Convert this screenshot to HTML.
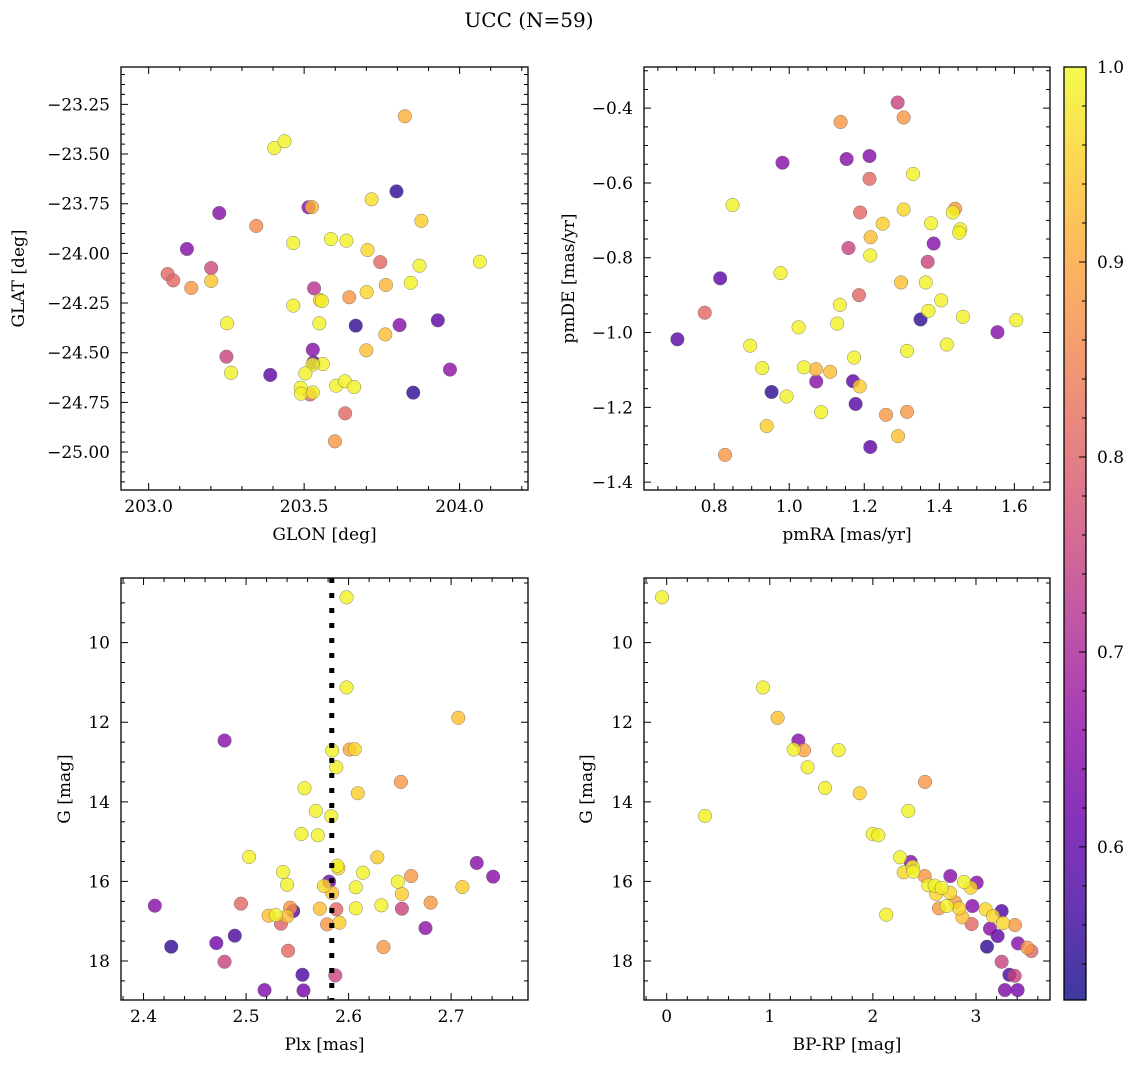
<!DOCTYPE html>
<html><head><meta charset="utf-8"><style>
html,body{margin:0;padding:0;background:#fff;}
svg{display:block;font-family:"DejaVu Serif","Liberation Serif",serif;}
</style></head><body>
<svg id="fig" width="1136" height="1067" viewBox="0 0 1136 1067" xmlns="http://www.w3.org/2000/svg">
<defs>
<linearGradient id="plasma" x1="0" y1="1" x2="0" y2="0"></linearGradient>
</defs>
<text x="529" y="27" font-size="20" text-anchor="middle">UCC (N=59)</text>
</svg>
<script>
// ---- Top-left: GLON / GLAT ----
const tlGlon=[203.824,203.404,203.437,203.797,203.717,203.514,203.525,203.227,203.346,203.877,203.465,203.586,203.636,203.704,203.123,203.745,204.065,203.871,203.201,203.061,203.079,203.137,203.201,203.843,203.763,203.532,203.701,203.551,203.557,203.645,203.465,203.252,203.549,203.666,203.807,203.930,203.761,203.700,203.528,203.250,203.530,203.560,203.527,203.265,203.391,203.504,203.969,203.603,203.631,203.661,203.489,203.490,203.519,203.528,203.851,203.632,203.599];
const tlGlat=[-23.310,-23.470,-23.436,-23.688,-23.728,-23.768,-23.767,-23.797,-23.862,-23.836,-23.948,-23.928,-23.936,-23.983,-23.978,-24.044,-24.042,-24.062,-24.074,-24.104,-24.136,-24.174,-24.139,-24.148,-24.159,-24.176,-24.195,-24.235,-24.240,-24.221,-24.263,-24.352,-24.352,-24.364,-24.361,-24.337,-24.408,-24.488,-24.485,-24.520,-24.549,-24.557,-24.560,-24.601,-24.612,-24.604,-24.585,-24.666,-24.644,-24.673,-24.676,-24.706,-24.710,-24.700,-24.701,-24.805,-24.946];
const tlProb=[0.91,0.99,0.99,0.55,0.97,0.65,0.92,0.65,0.86,0.95,0.99,0.99,0.99,0.96,0.65,0.81,0.99,0.99,0.76,0.81,0.81,0.88,0.94,0.99,0.92,0.72,0.96,0.94,0.99,0.88,0.99,0.99,0.99,0.55,0.65,0.60,0.93,0.93,0.65,0.75,0.60,0.99,0.99,0.99,0.60,0.99,0.66,0.99,0.99,0.99,0.99,0.99,0.81,0.99,0.55,0.81,0.88];
// ---- Top-right: pmRA / pmDE ----
const trPmra=[1.289,1.137,1.305,0.982,1.153,1.214,1.214,1.330,0.849,1.189,1.305,1.442,1.436,1.249,1.378,1.456,1.453,1.217,1.385,1.158,1.216,1.369,0.816,0.977,1.298,1.364,1.186,1.405,1.135,1.350,1.371,1.463,1.605,0.775,1.128,1.025,1.555,0.702,0.896,1.420,1.314,1.173,0.928,1.039,1.071,1.109,1.072,1.170,1.188,0.953,0.993,1.177,1.085,1.258,1.314,0.940,1.290,1.216,0.829];
const trPmde=[-0.385,-0.437,-0.425,-0.546,-0.536,-0.528,-0.589,-0.576,-0.659,-0.679,-0.671,-0.669,-0.679,-0.709,-0.708,-0.724,-0.733,-0.745,-0.762,-0.774,-0.794,-0.811,-0.855,-0.841,-0.866,-0.866,-0.900,-0.914,-0.926,-0.965,-0.942,-0.958,-0.967,-0.947,-0.976,-0.986,-0.999,-1.018,-1.035,-1.032,-1.049,-1.067,-1.095,-1.093,-1.098,-1.105,-1.131,-1.130,-1.144,-1.159,-1.171,-1.191,-1.213,-1.220,-1.212,-1.250,-1.277,-1.306,-1.327];
const trProb=[0.75,0.88,0.88,0.65,0.65,0.65,0.81,0.99,0.99,0.81,0.96,0.88,0.99,0.95,0.99,0.99,0.99,0.93,0.65,0.75,0.99,0.75,0.60,0.99,0.93,0.99,0.81,0.99,0.99,0.55,0.99,0.99,0.99,0.81,0.99,0.99,0.65,0.59,0.99,0.99,0.99,0.99,0.99,0.99,0.92,0.93,0.65,0.60,0.95,0.55,0.99,0.59,0.99,0.88,0.88,0.95,0.93,0.60,0.88];
// ---- Bottom-left: Plx / G ----
const blPlx=[2.598,2.598,2.707,2.479,2.584,2.601,2.606,2.588,2.651,2.557,2.609,2.568,2.583,2.554,2.570,2.503,2.628,2.725,2.589,2.590,2.536,2.614,2.661,2.741,2.581,2.648,2.540,2.576,2.711,2.607,2.584,2.652,2.411,2.495,2.680,2.572,2.588,2.607,2.632,2.652,2.543,2.546,2.522,2.529,2.540,2.534,2.579,2.591,2.675,2.489,2.471,2.427,2.634,2.541,2.479,2.555,2.587,2.518,2.556];
const blG=[8.861,11.126,11.889,12.459,12.710,12.685,12.677,13.130,13.499,13.658,13.784,14.228,14.362,14.807,14.840,15.385,15.394,15.536,15.604,15.671,15.763,15.780,15.864,15.880,16.006,16.006,16.082,16.115,16.140,16.148,16.291,16.316,16.610,16.560,16.535,16.685,16.702,16.677,16.601,16.685,16.660,16.744,16.861,16.845,16.878,17.063,17.079,17.037,17.172,17.364,17.549,17.641,17.650,17.742,18.019,18.346,18.362,18.731,18.740];
const blProb=[0.99,0.99,0.93,0.65,0.99,0.90,0.96,0.99,0.88,0.99,0.95,0.99,0.99,0.99,0.99,0.99,0.95,0.65,0.99,0.96,0.99,0.99,0.88,0.65,0.62,0.99,0.99,0.96,0.95,0.99,0.93,0.95,0.65,0.81,0.88,0.93,0.81,0.99,0.99,0.75,0.88,0.60,0.93,0.99,0.93,0.80,0.88,0.95,0.66,0.58,0.62,0.55,0.88,0.81,0.75,0.58,0.75,0.64,0.63];
// ---- Bottom-right: BP-RP / G ----
const brBprp=[-0.045,0.934,1.076,1.277,1.232,1.332,1.668,1.367,2.506,1.536,1.872,2.344,0.372,1.998,2.053,2.263,2.367,2.386,2.299,2.392,2.502,2.751,3.007,2.884,2.538,2.599,2.667,2.748,2.948,2.615,2.797,2.965,2.716,2.641,2.835,3.094,3.249,2.868,3.165,2.130,3.262,3.378,2.958,3.136,3.210,3.107,3.408,3.498,3.537,3.249,3.324,3.375,3.281,3.404];
const brG=[8.861,11.126,11.889,12.459,12.685,12.702,12.702,13.130,13.499,13.650,13.784,14.228,14.354,14.807,14.840,15.394,15.511,15.637,15.771,15.755,15.864,15.864,16.031,16.014,16.098,16.106,16.165,16.283,16.157,16.316,16.526,16.618,16.618,16.677,16.677,16.702,16.744,16.903,16.870,16.836,17.046,17.096,17.071,17.189,17.373,17.641,17.557,17.666,17.750,18.019,18.346,18.371,18.731,18.731];
const brProb=[0.99,0.99,0.93,0.65,0.99,0.90,0.99,0.99,0.88,0.99,0.95,0.99,0.99,0.99,0.99,0.99,0.65,0.99,0.96,0.99,0.88,0.65,0.65,0.99,0.99,0.99,0.99,0.96,0.96,0.96,0.88,0.65,0.99,0.88,0.96,0.96,0.58,0.93,0.96,0.99,0.96,0.88,0.81,0.65,0.60,0.55,0.65,0.88,0.81,0.75,0.58,0.75,0.64,0.63];
// ---- Tick labels ----
const tlXTicks=[203.0,203.5,204.0], tlXLabels=["203.0","203.5","204.0"];
const tlYTicks=[-23.25,-23.5,-23.75,-24,-24.25,-24.5,-24.75,-25], tlYLabels=["−23.25","−23.50","−23.75","−24.00","−24.25","−24.50","−24.75","−25.00"];
const trXTicks=[0.8,1.0,1.2,1.4,1.6], trXLabels=["0.8","1.0","1.2","1.4","1.6"];
const trYTicks=[-0.4,-0.6,-0.8,-1.0,-1.2,-1.4], trYLabels=["−0.4","−0.6","−0.8","−1.0","−1.2","−1.4"];
const blXTicks=[2.4,2.5,2.6,2.7], blXLabels=["2.4","2.5","2.6","2.7"];
const gTicks=[10,12,14,16,18], gLabels=["10","12","14","16","18"];
const brXTicks=[0,1,2,3], brXLabels=["0","1","2","3"];
const cbTicks=[0.6,0.7,0.8,0.9,1.0], cbLabels=["0.6","0.7","0.8","0.9","1.0"];
const plxRef=2.5836;

const NS="http://www.w3.org/2000/svg";
const svg=document.getElementById('fig');
function mk(tag,attrs,parent){const e=document.createElementNS(NS,tag);for(const k in attrs)e.setAttribute(k,attrs[k]);(parent||svg).appendChild(e);return e;}
const stops=[[0,"#0d0887"],[0.1,"#41049d"],[0.2,"#6a00a8"],[0.3,"#8f0da4"],[0.4,"#b12a90"],[0.5,"#cc4778"],[0.6,"#e16462"],[0.7,"#f2844b"],[0.8,"#fca636"],[0.9,"#fcce25"],[1,"#f0f921"]];
const PMIN=0.5215,PMAX=1.0;
function hex(h){return [1,3,5].map(i=>parseInt(h.substr(i,2),16));}
function cmap(p){let t=Math.max(0,Math.min(1,(p-PMIN)/(PMAX-PMIN)));for(let i=1;i<stops.length;i++){if(t<=stops[i][0]){const a=stops[i-1],b=stops[i];const f=(t-a[0])/(b[0]-a[0]);const ca=hex(a[1]),cb=hex(b[1]);return 'rgb('+ca.map((v,j)=>Math.round(v+(cb[j]-v)*f)).join(',')+')';}}return stops[10][1];}
const grad=svg.querySelector('#plasma');
stops.forEach(s=>mk('stop',{offset:s[0],'stop-color':s[1],'stop-opacity':0.8},grad));

function panel(name,L,T,R,B,xmin,xmax,ymin,ymax,invertY,xt,xl,yt,yl,xminor,yminor,xlabel,ylabel,ylabX){
  const g=mk('g',{});
  
  
  const sx=v=>L+(v-xmin)/(xmax-xmin)*(R-L);
  const sy=invertY?(v=>T+(v-ymin)/(ymax-ymin)*(B-T)):(v=>B-(v-ymin)/(ymax-ymin)*(B-T));
  return {g,sx,sy,L,T,R,B,xmin,xmax,ymin,ymax,xt,xl,yt,yl,xminor,yminor,xlabel,ylabel,ylabX,name};
}
function axes(P){
  const {g,sx,sy,L,T,R,B}=P;
  const frame=mk('rect',{x:L,y:T,width:R-L,height:B-T,fill:'none',stroke:'#000','stroke-width':1.3},g);
  
  
  let d='';
  const lo=Math.min(P.xmin,P.xmax),hi=Math.max(P.xmin,P.xmax);
  for(let v=Math.ceil(lo/P.xminor-1e-6)*P.xminor;v<=hi+1e-9;v+=P.xminor){const x=sx(v);d+=`M${x},${B}v-4M${x},${T}v4`;}
  P.xt.forEach(v=>{const x=sx(v);d+=`M${x},${B}v-7M${x},${T}v7`;});
  const ylo=Math.min(P.ymin,P.ymax),yhi=Math.max(P.ymin,P.ymax);
  for(let v=Math.ceil(ylo/P.yminor-1e-6)*P.yminor;v<=yhi+1e-9;v+=P.yminor){const y=sy(v);d+=`M${L},${y}h4M${R},${y}h-4`;}
  P.yt.forEach(v=>{const y=sy(v);d+=`M${L},${y}h7M${R},${y}h-7`;});
  const tk=mk('path',{d:d,stroke:'#000','stroke-width':1,fill:'none'},g);
  
  
  P.xt.forEach((v,i)=>{const t=mk('text',{x:sx(v),y:B+22,'font-size':17,'text-anchor':'middle'},g);t.textContent=P.xl[i];
    
    });
  P.yt.forEach((v,i)=>{const t=mk('text',{x:L-11,y:sy(v)+6,'font-size':17,'text-anchor':'end'},g);t.textContent=P.yl[i];
    
    });
  const xt=mk('text',{x:(L+R)/2,y:B+50,'font-size':17,'text-anchor':'middle'},g);xt.textContent=P.xlabel;
  
  
  const yt=mk('text',{x:P.ylabX,y:(T+B)/2,'font-size':17,'text-anchor':'middle',transform:`rotate(-90 ${P.ylabX} ${(T+B)/2})`},g);yt.textContent=P.ylabel;
  
  
}
function scatter(P,xs,ys,ps){
  const idx=xs.map((_,i)=>i).sort((a,b)=>ps[a]-ps[b]);
  idx.forEach(i=>{
    const c=mk('circle',{cx:P.sx(xs[i]),cy:P.sy(ys[i]),r:6.8,fill:cmap(ps[i]),'fill-opacity':0.8,stroke:'#666','stroke-width':0.5,'stroke-opacity':0.8},P.g);
    
    
  });
}
const tl=panel('glon-glat-panel',121,67,528,490,202.911,204.220,-25.191,-23.062,false,tlXTicks,tlXLabels,tlYTicks,tlYLabels,0.1,0.05,'GLON [deg]','GLAT [deg]',24);
const tr=panel('pm-panel',644,67,1050,490,0.613,1.695,-1.421,-0.290,false,trXTicks,trXLabels,trYTicks,trYLabels,0.05,0.05,'pmRA [mas/yr]','pmDE [mas/yr]',574);
const bl=panel('plx-g-panel',121,578,528,1000,2.378,2.775,8.375,18.98,true,blXTicks,blXLabels,gTicks,gLabels,0.02,0.5,'Plx [mas]','G [mag]',70);
const br=panel('cmd-panel',644,578,1050,1000,-0.220,3.718,8.375,18.98,true,brXTicks,brXLabels,gTicks,gLabels,0.2,0.5,'BP-RP [mag]','G [mag]',592);
scatter(tl,tlGlon,tlGlat,tlProb);
scatter(tr,trPmra,trPmde,trProb);
scatter(bl,blPlx,blG,blProb);
const vl=mk('line',{x1:bl.sx(plxRef),x2:bl.sx(plxRef),y1:578,y2:1000,stroke:'#000','stroke-width':5,'stroke-dasharray':'5 10'},bl.g);


scatter(br,brBprp,brG,brProb);
[tl,tr,bl,br].forEach(axes);
// colorbar
const cb=mk('g',{});


const CL=1064,CR=1086,CT=67,CB=1000;
const cy=v=>CB-(v-PMIN)/(PMAX-PMIN)*(CB-CT);
const cr=mk('rect',{x:CL,y:CT,width:CR-CL,height:CB-CT,fill:'url(#plasma)',stroke:'#000','stroke-width':1.3},cb);


let cd='';
for(let v=0.54;v<=1.0001;v+=0.02){cd+=`M${CR},${cy(v)}h-4`;}
cbTicks.forEach(v=>{cd+=`M${CR},${cy(v)}h-7`;});
mk('path',{d:cd,stroke:'#000','stroke-width':1},cb);
cbTicks.forEach((v,i)=>{const t=mk('text',{x:CR+11,y:cy(v)+6,'font-size':17},cb);t.textContent=cbLabels[i];
  
  });
</script>
</body></html>
